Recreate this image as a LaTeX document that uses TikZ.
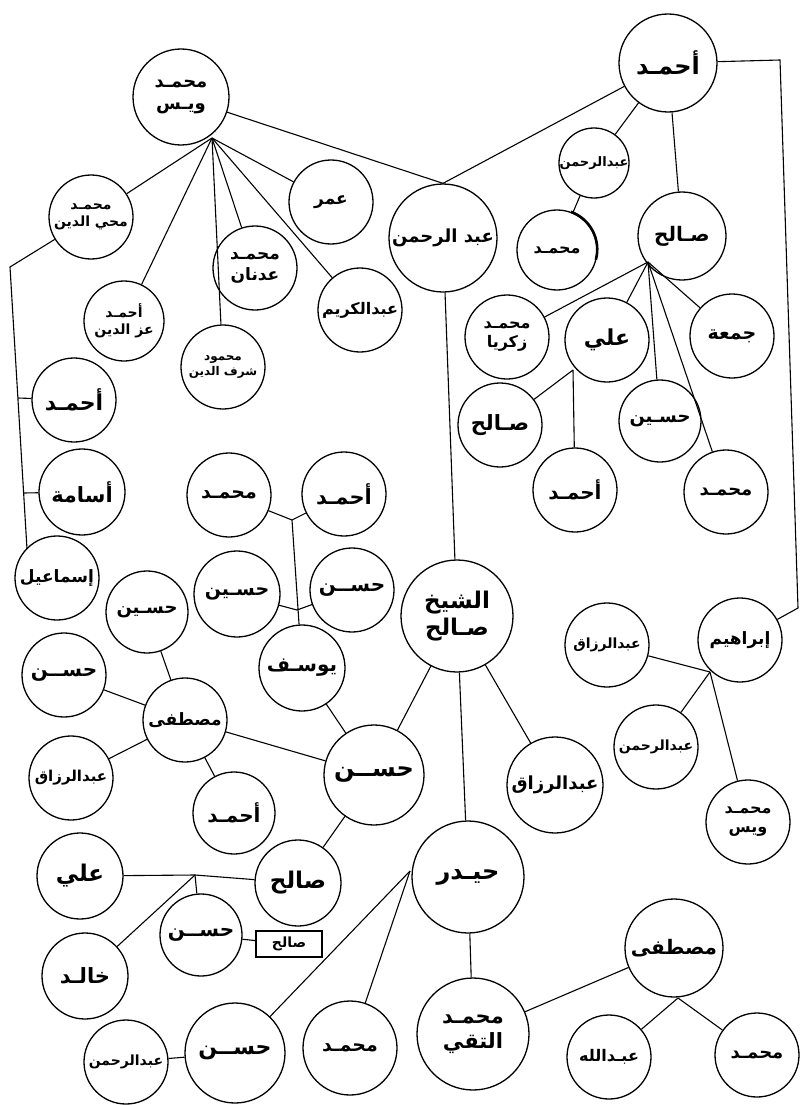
\documentclass[tikz,border=0pt]{standalone}
\usepackage{fontspec}
\TeXXeTstate=1
\newfontfamily\ar[Script=Arabic]{DejaVu Sans}
\newcommand{\ARx}[1]{\beginR #1\endR}
\begin{document}
\begin{tikzpicture}[x=1pt,y=-1pt,
  pn/.style={circle,draw,line width=1.3pt,minimum size=#1,inner sep=0pt,align=center},
  t/.style={font={\ar\bfseries\fontsize{#1}{#1}\selectfont\baselineskip=1.2em}},
  ln/.style={line width=1.1pt},
  lbox/.style={draw,line width=1.2pt,minimum width=66pt,minimum height=26pt,inner sep=0pt}]
\useasboundingbox[fill=white] (0,0) rectangle (800,1105);
% ---- nodes ----
\node[pn=96,t=18] (mw) at (181,97) {\ARx{محمـد}\\\ARx{ويـس}};
\node[pn=84,t=14] (mmd) at (91,217) {\ARx{محمـد}\\\ARx{محي الدين}};
\node[pn=84,t=17] (omar) at (331,202) {\ARx{عمر}};
\node[pn=84,t=17] (madn) at (255,268) {\ARx{محمـد}\\\ARx{عدنان}};
\node[pn=84,t=16] (akar) at (360,310) {\ARx{عبدالكريم}};
\node[pn=80,t=14] (aizz) at (124,321) {\ARx{أحمـد}\\\ARx{عز الدين}};
\node[pn=84,t=12] (mshr) at (223,367) {\ARx{محمود}\\\ARx{شرف الدين}};
\node[pn=84,t=22] (ahl) at (74,400) {\ARx{أحمـد}};
\node[pn=86,t=21] (usm) at (82,492) {\ARx{أسامة}};
\node[pn=84,t=17] (ism) at (57,578) {\ARx{إسماعيل}};
\node[pn=84,t=19] (mhm) at (229,495) {\ARx{محمـد}};
\node[pn=84,t=21] (ahm) at (344,494) {\ARx{أحمـد}};
\node[pn=86,t=19] (hsm) at (237,594) {\ARx{حسـين}};
\node[pn=84,t=20] (hnm) at (352,590) {\ARx{حســن}};
\node[pn=86,t=20] (yus) at (302,668) {\ARx{يوسـف}};
\node[pn=82,t=18] (hsl) at (147,612) {\ARx{حسـين}};
\node[pn=84,t=20] (hnl) at (64,675) {\ARx{حســن}};
\node[pn=84,t=17] (mus) at (185,720) {\ARx{مصطفى}};
\node[pn=84,t=15] (arzl) at (71,778) {\ARx{عبدالرزاق}};
\node[pn=82,t=20] (ahb) at (234,813) {\ARx{أحمـد}};
\node[pn=100,t=24] (hnb) at (374,775) {\ARx{حســن}};
\node[pn=112,t=23] (sheikh) at (457,616) {\ARx{الشيخ}\\\ARx{صـالح}};
\node[pn=96,t=18] (arzm) at (555,785) {\ARx{عبدالرزاق}};
\node[pn=84,t=17] (ibr) at (740,640) {\ARx{إبراهيم}};
\node[pn=84,t=14] (arzr) at (607,645) {\ARx{عبدالرزاق}};
\node[pn=84,t=14] (arhr) at (656,747) {\ARx{عبدالرحمن}};
\node[pn=84,t=16] (mwr) at (748,822) {\ARx{محمـد}\\\ARx{ويس}};
\node[pn=98,t=24] (aht) at (668,63) {\ARx{أحمـد}};
\node[pn=70,t=13] (ars) at (594,163) {\ARx{عبدالرحمن}};
\node[pn=80,t=16] (mb) at (557,250) {\ARx{محمـد}};
\node[pn=88,t=20] (slr) at (682,236) {\ARx{صـالح}};
\node[pn=84,t=16] (mzk) at (507,337) {\ARx{محمـد}\\\ARx{زكريا}};
\node[pn=84,t=22] (ali) at (607,340) {\ARx{علي}};
\node[pn=84,t=19] (jum) at (732,336) {\ARx{جمعة}};
\node[pn=84,t=21] (sll) at (500,425) {\ARx{صـالح}};
\node[pn=84,t=20] (ahr) at (575,490) {\ARx{أحمـد}};
\node[pn=82,t=18] (hsr) at (660,421) {\ARx{حسـين}};
\node[pn=84,t=18] (mr) at (726,492) {\ARx{محمـد}};
\node[pn=108,t=18] (arb) at (443,238) {\ARx{عبد الرحمن}};
\node[pn=112,t=24] (hd) at (468,877) {\ARx{حيـدر}};
\node[pn=112,t=21] (mtq) at (473,1034) {\ARx{محمـد}\\\ARx{التقي}};
\node[pn=98,t=20] (musr) at (674,948) {\ARx{مصطفى}};
\node[pn=84,t=16] (abd) at (609,1057) {\ARx{عبـدالله}};
\node[pn=84,t=18] (mbr) at (757,1055) {\ARx{محمـد}};
\node[pn=86,t=23] (slb) at (298,883) {\ARx{صالح}};
\node[pn=86,t=23] (alb) at (80,876) {\ARx{علي}};
\node[pn=82,t=20] (hns) at (201,935) {\ARx{حســن}};
\node[lbox,t=14] (box) at (289,944) {\ARx{صالح}};
\node[pn=86,t=21] (khd) at (85,976) {\ARx{خالـد}};
\node[pn=100,t=22] (hnbb) at (235,1053) {\ARx{حســن}};
\node[pn=84,t=14] (arbb) at (126,1062) {\ARx{عبدالرحمن}};
\node[pn=94,t=19] (mbb) at (350,1048) {\ARx{محمـد}};
% bold arc on محمد
\draw[line width=2.6pt] (mb.70) arc[start angle=70,end angle=-15,radius=40pt];
% ---- junctions ----
\coordinate (jmw) at (212,138);
\coordinate (lt) at (10,267);
\coordinate (lb) at (27,549);
\coordinate (lj1) at (18,398);
\coordinate (lj2) at (23.5,493);
\coordinate (j1) at (292,520);
\coordinate (j2) at (297,610);
\coordinate (jb) at (195,875);
\coordinate (jh) at (410,871);
\coordinate (jm) at (678,998);
\coordinate (js) at (648,262);
\coordinate (ja) at (573,370);
\coordinate (rt) at (780,60);
\coordinate (rb) at (798,608);
\coordinate (ji) at (710,672);
% ---- connectors ----
\draw[ln] (mw) -- (arb.north);
\draw[ln] (aht) -- (arb.north);
\foreach \c in {mmd,aizz,mshr,madn,akar,omar} \draw[ln] (jmw) -- (\c);
\draw[ln] (mmd) -- (lt) -- (lb);
\draw[ln] (lj1) -- (ahl);
\draw[ln] (lj2) -- (usm);
\draw[ln] (mhm) -- (j1);
\draw[ln] (ahm) -- (j1);
\draw[ln] (j1) -- (yus);
\draw[ln] (hsm) -- (j2);
\draw[ln] (hnm) -- (j2);
\foreach \c in {hsl,hnl,arzl,ahb,hnb} \draw[ln] (mus) -- (\c);
\draw[ln] (yus) -- (hnb);
\draw[ln] (sheikh) -- (hnb);
\draw[ln] (hnb) -- (slb);
\draw[ln] (alb) -- (jb);
\draw[ln] (jb) -- (slb);
\draw[ln] (jb) -- (hns);
\draw[ln] (jb) -- (khd);
\draw[ln] (hns) -- (box);
\draw[ln] (arb) -- (sheikh);
\draw[ln] (sheikh) -- (hd);
\draw[ln] (sheikh) -- (arzm);
\draw[ln] (jh) -- (hnbb);
\draw[ln] (jh) -- (mbb);
\draw[ln] (hnbb) -- (arbb);
\draw[ln] (hd) -- (mtq);
\draw[ln] (mtq) -- (musr);
\draw[ln] (jm) -- (abd);
\draw[ln] (jm) -- (mbr);
\draw[ln] (aht) -- (ars);
\draw[ln] (ars) -- (mb);
\draw[ln] (aht) -- (slr);
\foreach \c in {mzk,ali,hsr,mr,jum} \draw[ln] (js) -- (\c);
\draw[ln] (ja) -- (sll);
\draw[ln] (ja) -- (ahr);
\draw[ln] (aht) -- (rt) -- (rb) -- (ibr);
\foreach \c in {arzr,arhr,mwr} \draw[ln] (ji) -- (\c);
\end{tikzpicture}
\end{document}
